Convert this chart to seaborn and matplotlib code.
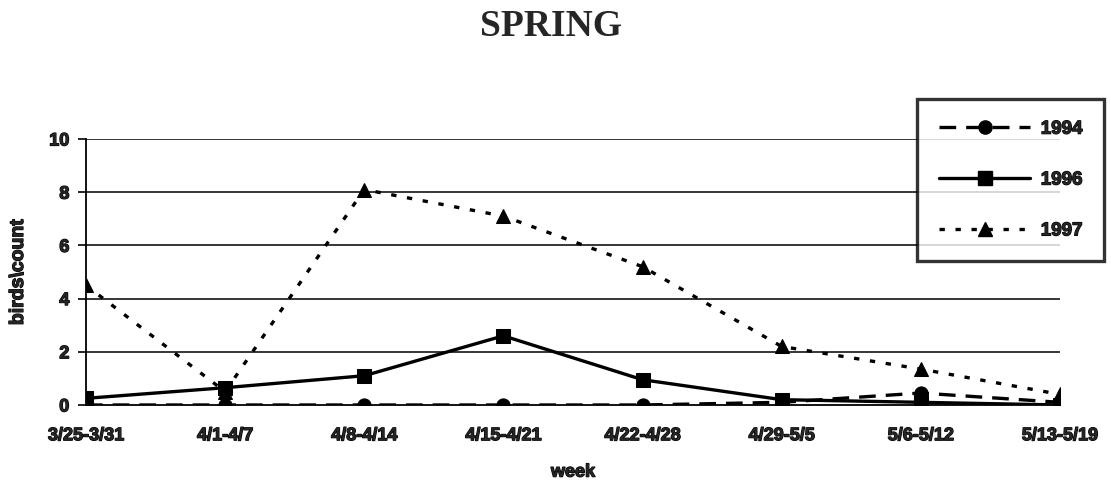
import matplotlib
matplotlib.use("Agg")
import matplotlib.pyplot as plt
import matplotlib.patheffects as pe
import seaborn as sns
import pandas as pd
from matplotlib.lines import Line2D

weeks = ["3/25-3/31", "4/1-4/7", "4/8-4/14", "4/15-4/21",
         "4/22-4/28", "4/29-5/5", "5/6-5/12", "5/13-5/19"]
y1994 = [0, 0, 0, 0, 0, 0.1, 0.45, 0.1]
y1996 = [0.25, 0.65, 1.1, 2.6, 0.95, 0.2, 0.1, 0.0]
y1997 = [4.5, 0.5, 8.1, 7.1, 5.2, 2.2, 1.35, 0.4]
y_ticks = [0, 2, 4, 6, 8, 10]

series = {"1994": y1994, "1996": y1996, "1997": y1997}
df = pd.DataFrame([
    {"week": w, "idx": i, "year": yr, "count": v}
    for yr, vals in series.items()
    for i, (w, v) in enumerate(zip(weeks, vals))
])

sns.set_theme(style="white")
plt.rcParams["font.family"] = ["Liberation Sans", "DejaVu Sans"]

# heavier stroke around the bold sans text
heavy = [pe.withStroke(linewidth=0.9, foreground="black")]

fig = plt.figure(figsize=(11.11, 4.86), dpi=100)
ax = fig.add_axes([0.0774, 0.1667, 0.8766, 0.5473])

styles = {
    "1994": dict(marker="o", ls=(0, (5, 3)), ms=9.5),
    "1996": dict(marker="s", ls="-", ms=9.5),
    "1997": dict(marker="^", ls=(0, (1.6, 3.2)), ms=10.5),
}

for yr in ["1997", "1996", "1994"]:
    st = styles[yr]
    sub = df[df["year"] == yr]
    sns.lineplot(data=sub, x="idx", y="count", ax=ax, color="black",
                 linewidth=2.4, linestyle=st["ls"], marker=st["marker"],
                 markersize=st["ms"], markeredgecolor="black",
                 markerfacecolor="black", legend=False)

ax.set_xlim(0, len(weeks) - 1)
ax.set_ylim(0, 10)
ax.set_yticks(y_ticks)
ax.set_xticks(range(len(weeks)))
ax.set_xticklabels(weeks)
for gy in y_ticks[1:]:
    ax.axhline(gy, color="black", linewidth=1.1, zorder=0)

for side in ["top", "right"]:
    ax.spines[side].set_visible(False)
for side in ["left", "bottom"]:
    ax.spines[side].set_visible(True)
    ax.spines[side].set_color("black")
    ax.spines[side].set_linewidth(1.3)

ax.tick_params(axis="y", left=True, length=6, width=1.2, color="black",
               labelsize=13, pad=6)
ax.tick_params(axis="x", bottom=False, labelsize=13, pad=10)
for lab in ax.get_xticklabels() + ax.get_yticklabels():
    lab.set_fontweight("bold")
    lab.set_path_effects(heavy)

ax.set_xlabel("week", fontsize=13, fontweight="bold", labelpad=14,
              path_effects=heavy)
ax.set_ylabel("birds\\count", fontsize=14, fontweight="bold", labelpad=16,
              path_effects=heavy)

fig.text(0.496, 0.945, "SPRING", ha="center", va="center",
         fontsize=27, fontweight="bold", family=["Liberation Serif"])

handles = [
    Line2D([], [], color="black", lw=2.4, ls=styles[yr]["ls"],
           marker=styles[yr]["marker"], ms=styles[yr]["ms"])
    for yr in ["1994", "1996", "1997"]
]
leg = fig.legend(handles, ["1994", "1996", "1997"],
                 loc="upper left", bbox_to_anchor=(917 / 1111, 1 - 99 / 486),
                 frameon=True, fancybox=False, handlelength=4.9,
                 labelspacing=1.8, borderpad=1.15, handletextpad=0.55,
                 borderaxespad=0.0,
                 prop={"weight": "bold", "size": 13.5})
for t in leg.get_texts():
    t.set_path_effects(heavy)
leg.get_frame().set_edgecolor("black")
leg.get_frame().set_linewidth(2.4)

fig.savefig("out.png", dpi=100, facecolor="white")
